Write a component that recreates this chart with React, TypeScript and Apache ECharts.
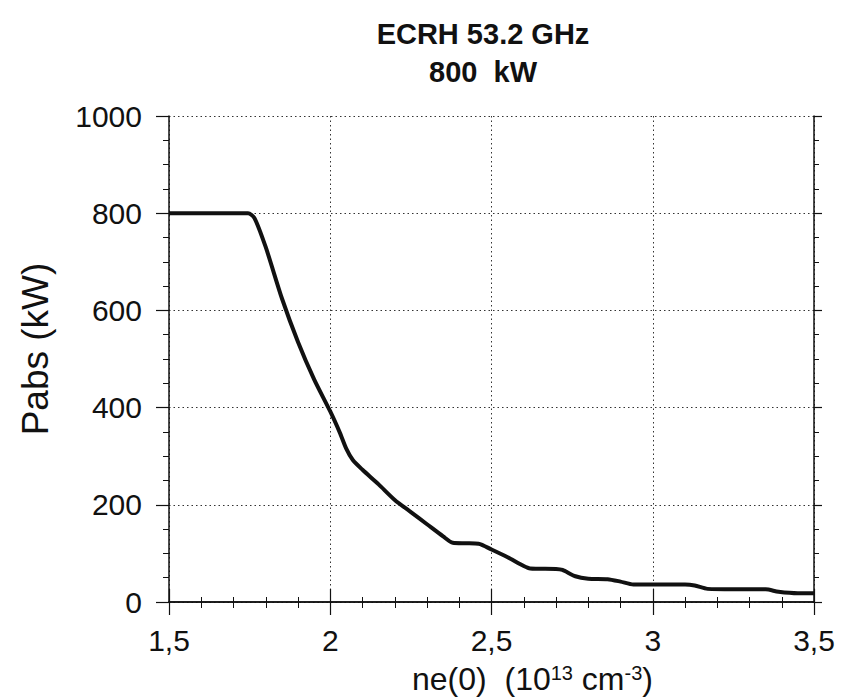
import React, { useEffect, useRef } from "react";
import * as echarts from "echarts";

// Data
const neValues = [
  1.5, 1.6, 1.7, 1.745, 1.765, 1.8, 1.85, 1.9, 1.95, 2.0, 2.03, 2.05, 2.07, 2.1,
  2.15, 2.2, 2.25, 2.3, 2.35, 2.38, 2.42, 2.46, 2.5, 2.55, 2.6, 2.62, 2.7, 2.72,
  2.76, 2.8, 2.86, 2.9, 2.94, 3.0, 3.1, 3.13, 3.17, 3.25, 3.35, 3.39, 3.45, 3.5,
];
const pabsValues = [
  800, 800, 800, 800, 790, 730, 625, 535, 458, 392, 348, 315, 292, 272,
  242, 210, 185, 160, 135, 122, 121, 120, 108, 92, 74, 69, 68, 66,
  53, 48, 47, 42, 36, 36, 36, 34, 27, 26, 26, 21, 18, 18,
];
const xTickValues = [1.5, 2, 2.5, 3, 3.5];
const yTickValues = [0, 200, 400, 600, 800, 1000];
const titleLines = ["ECRH 53.2 GHz", "800  kW"];
const yAxisTitle = "Pabs (kW)";

const FONT = "'Liberation Sans', Arial, Helvetica, sans-serif";

export default function App() {
  const ref = useRef<HTMLDivElement>(null);
  useEffect(() => {
    if (!ref.current) return;
    const chart = echarts.init(ref.current, null, { renderer: "svg" });
    const black = "#111";
    const grid = { left: 169, right: 35, top: 116, bottom: 97 };
    const dotted = { show: true, lineStyle: { color: "#333", width: 1, type: [1.5, 3] as any } };
    const baseX = {
      type: "value" as const,
      min: xTickValues[0],
      max: xTickValues[xTickValues.length - 1],
      interval: 0.5,
      axisLine: { show: true, lineStyle: { color: black, width: 1.5 } },
    };
    const baseY = {
      type: "value" as const,
      min: yTickValues[0],
      max: yTickValues[yTickValues.length - 1],
      interval: 200,
      axisLine: { show: true, lineStyle: { color: black, width: 1.5 } },
    };
    chart.setOption({
      animation: false,
      backgroundColor: "#fff",
      title: {
        text: titleLines.join("\n"),
        left: 478,
        top: 10,
        textAlign: "center",
        textStyle: {
          fontFamily: FONT,
          fontSize: 29,
          fontWeight: "bold",
          color: black,
          lineHeight: 38,
        },
      },
      graphic: [
        {
          type: "text",
          left: 412,
          top: 663,
          style: {
            text: "ne(0)  (10{sup|13} cm{sup|-3})",
            fontFamily: FONT,
            fontSize: 32,
            fill: black,
            rich: {
              sup: { fontFamily: FONT, fontSize: 20, verticalAlign: "top", fill: black },
            },
          } as any,
        },
      ],
      grid,
      xAxis: [
        {
          ...baseX,
          position: "bottom",
          axisTick: { show: true, length: 13, lineStyle: { color: black, width: 1.2 } },
          minorTick: { show: true, splitNumber: 5, length: 6, lineStyle: { color: black, width: 1 } },
          axisLabel: {
            margin: 23,
            fontFamily: FONT,
            fontSize: 30,
            color: black,
            formatter: (v: number) => String(v).replace(".", ","),
          },
          splitLine: dotted,
        },
        {
          ...baseX,
          position: "top",
          axisTick: { show: true, length: 13, lineStyle: { color: black, width: 1.2 } },
          minorTick: { show: true, splitNumber: 5, length: 5, lineStyle: { color: black, width: 1 } },
          axisLabel: { show: false },
          splitLine: { show: false },
        },
      ],
      yAxis: [
        {
          ...baseY,
          position: "left",
          name: yAxisTitle,
          nameLocation: "middle",
          nameGap: 115,
          nameTextStyle: { fontFamily: FONT, fontSize: 37, color: black, padding: [0, 0, 0, 20] },
          axisTick: { show: true, length: 13, lineStyle: { color: black, width: 1.2 } },
          minorTick: { show: true, splitNumber: 4, length: 6, lineStyle: { color: black, width: 1 } },
          axisLabel: {
            margin: 27,
            fontFamily: FONT,
            fontSize: 30,
            color: black,
            formatter: (v: number) => String(v),
          },
          splitLine: dotted,
        },
        {
          ...baseY,
          position: "right",
          axisTick: { show: true, length: 8, lineStyle: { color: black, width: 1.2 } },
          minorTick: { show: true, splitNumber: 4, length: 5, lineStyle: { color: black, width: 1 } },
          axisLabel: { show: false },
          splitLine: { show: false },
        },
      ],
      series: [
        {
          type: "line",
          xAxisIndex: 0,
          yAxisIndex: 0,
          data: neValues.map((x, i) => [x, pabsValues[i]]),
          showSymbol: false,
          smooth: 0.25,
          lineStyle: { color: black, width: 4 },
          z: 5,
        },
      ],
    });
    return () => chart.dispose();
  }, []);
  return (
    <div
      ref={ref}
      style={{ position: "fixed", left: 0, top: 0, width: 849, height: 699, background: "#fff" }}
    />
  );
}
